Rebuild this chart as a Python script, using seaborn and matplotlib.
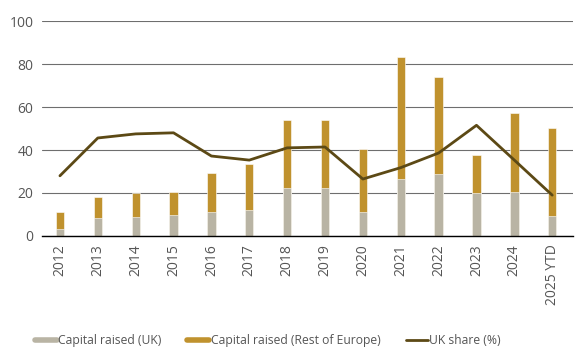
import numpy as np
import pandas as pd
import matplotlib.pyplot as plt
from matplotlib.lines import Line2D
import seaborn as sns

years = ['2012', '2013', '2014', '2015', '2016', '2017', '2018', '2019',
         '2020', '2021', '2022', '2023', '2024', '2025 YTD']
uk_raised = [3.2, 8.4, 9.0, 9.8, 11.0, 12.0, 22.3, 22.2, 11.0, 26.5, 29.0, 19.8, 20.3, 9.3]
total_raised = [11.2, 18.0, 19.8, 20.5, 29.3, 33.5, 54.0, 53.8, 40.5, 83.4, 73.8, 37.7, 57.0, 50.4]
uk_share = [28.0, 45.6, 47.5, 48.0, 37.2, 35.3, 41.0, 41.4, 26.5, 31.8, 38.6, 51.5, 35.3, 19.0]

c_uk = '#b9b4a4'
c_eu = '#c0922e'
c_line = '#5c4915'

sns.set_style('white')
plt.rcParams['font.family'] = ['Open Sans', 'DejaVu Sans']

df = pd.DataFrame({'year': years, 'uk': uk_raised, 'total': total_raised,
                   'share': uk_share, 'pos': np.arange(len(years))})

fig = plt.figure(figsize=(5.8, 3.57), dpi=100)
ax = fig.add_axes([0.072, 0.339, 0.916, 0.602])

sns.barplot(data=df, x='year', y='total', color=c_eu, width=0.22,
            saturation=1, ax=ax, edgecolor='white', linewidth=0.4)
sns.barplot(data=df, x='year', y='uk', color=c_uk, width=0.22,
            saturation=1, ax=ax, edgecolor='white', linewidth=0.4)
sns.lineplot(data=df, x='pos', y='share', color=c_line, linewidth=2, ax=ax)

ax.set_ylim(0, 100)
ax.set_xlim(-0.48, 13.55)
ax.set_yticks([0, 20, 40, 60, 80, 100])
ax.yaxis.grid(True, color='#6e6e6e', linewidth=0.8)
ax.set_axisbelow(True)
for s in ['left', 'right', 'top']:
    ax.spines[s].set_visible(False)
ax.spines['bottom'].set_color('black')
ax.spines['bottom'].set_linewidth(1)
ax.set_xlabel('')
ax.set_ylabel('')
ax.set_xticks(np.arange(len(years)))
ax.set_xticklabels(years, rotation=90)
ax.tick_params(axis='both', length=0, labelsize=10, colors='#555555', pad=6)

handles = [Line2D([], [], color=c_uk, linewidth=4),
           Line2D([], [], color=c_eu, linewidth=4),
           Line2D([], [], color=c_line, linewidth=2)]
labels = ['Capital raised (UK)', 'Capital raised (Rest of Europe)', 'UK share (%)']
leg = fig.legend(handles, labels, loc='center', bbox_to_anchor=(0.462, 0.045), ncol=3,
                 frameon=False, fontsize=8.7, handlelength=1.8, handletextpad=0.15,
                 columnspacing=2.1)
for t in leg.get_texts():
    t.set_color('#555555')

fig.savefig('out.png', dpi=100)
